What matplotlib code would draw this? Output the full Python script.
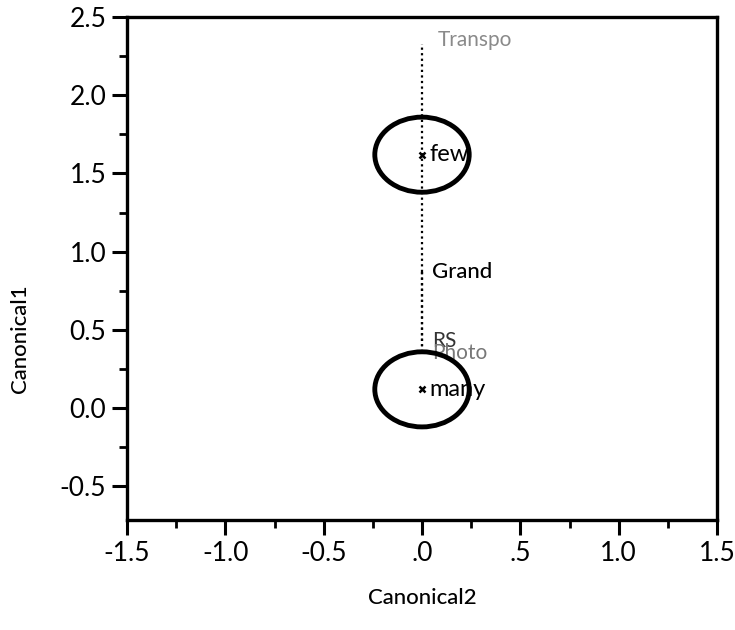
import matplotlib
matplotlib.use("Agg")
import matplotlib.pyplot as plt
from matplotlib.patches import Ellipse
from matplotlib.ticker import MultipleLocator

# ---- data ----
groups = ["few", "many"]
group_x = [0.0, 0.0]
group_y = [1.62, 0.12]
circle_r = [0.24, 0.24]

grand_label = "Grand"
grand_x = 0.0
grand_y = 0.87

ray_labels = ["Transpo", "RS", "Photo"]
ray_x = [0.0, 0.0, 0.0]
ray_y = [2.33, 0.40, 0.37]

xticks = [-1.5, -1.0, -0.5, 0.0, 0.5, 1.0, 1.5]
xtick_labels = ["-1.5", "-1.0", "-0.5", ".0", ".5", "1.0", "1.5"]
yticks = [-0.5, 0.0, 0.5, 1.0, 1.5, 2.0, 2.5]
ytick_labels = ["-0.5", "0.0", "0.5", "1.0", "1.5", "2.0", "2.5"]

plt.rcParams['font.family'] = ['Lato', 'DejaVu Sans']

fig = plt.figure(figsize=(7.35, 6.3), dpi=100)
ax = fig.add_axes([127/735, 1-520/630, (717-127)/735, (520-17)/630])

ax.set_xlim(-1.5, 1.5)
ax.set_ylim(-0.715, 2.5)

# rays
for rx, ry in zip(ray_x, ray_y):
    ax.plot([grand_x, rx], [grand_y, ry], linestyle=(0, (1, 1.5)), color="black", lw=1.6, zorder=2)

ray_colors = ["#8a8a8a", "#333333", "#777777"]
ray_dy = [0.02, 0.03, -0.02]
ray_dx = [0.08, 0.05, 0.05]
for lab, rx, ry, c, dx, dy in zip(ray_labels, ray_x, ray_y, ray_colors, ray_dx, ray_dy):
    ax.text(rx + dx, ry + dy, lab, color=c, fontsize=15, va="center", ha="left")

ax.text(grand_x + 0.05, grand_y, grand_label, fontsize=16, va="center", ha="left",
        fontweight="medium")

# group means and circles
for g, gx, gy, r in zip(groups, group_x, group_y, circle_r):
    ax.add_patch(Ellipse((gx, gy), 2*r, 2*r, fill=False, lw=3.5, color="black", zorder=3))
    ax.plot(gx, gy, marker="x", color="black", ms=5, mew=1.8, zorder=4)
    ax.text(gx + 0.04, gy, g, fontsize=17, va="center", ha="left", zorder=5)

ax.set_xticks(xticks)
ax.set_xticklabels(xtick_labels)
ax.set_yticks(yticks)
ax.set_yticklabels(ytick_labels)
ax.xaxis.set_minor_locator(MultipleLocator(0.25))
ax.yaxis.set_minor_locator(MultipleLocator(0.25))

ax.tick_params(axis="both", which="major", direction="out", length=11, width=2.2, labelsize=19, pad=4)
ax.tick_params(axis="both", which="minor", direction="out", length=6, width=2.0)
ax.tick_params(top=False, right=False)

for s in ax.spines.values():
    s.set_linewidth(2.4)

ax.set_xlabel("Canonical2", fontsize=16, fontweight="medium")
ax.set_ylabel("Canonical1", fontsize=16, fontweight="medium")
ax.xaxis.set_label_coords(0.5, -0.135)
ax.yaxis.set_label_coords(-0.165, 0.36)

fig.savefig("out.png", dpi=100)
